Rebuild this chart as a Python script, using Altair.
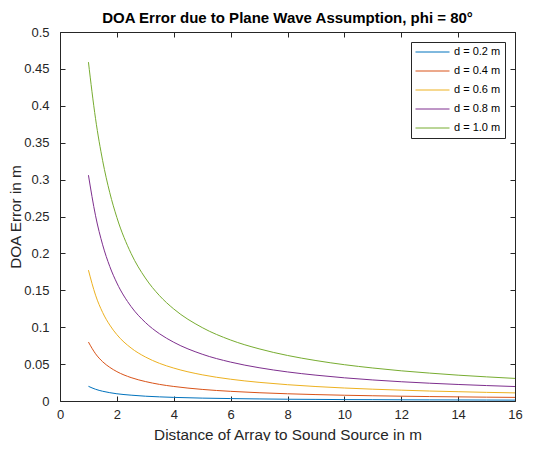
import altair as alt
import pandas as pd

# Distance of array to sound source (m)
distance = [1, 1.25, 1.5, 1.75, 2, 2.5, 3, 3.5, 4, 5, 6, 7, 8, 9, 10, 11, 12, 13, 14, 15, 16]

# DOA error (m)
err_d02 = [0.0199, 0.0159, 0.0132, 0.0113, 0.0098, 0.0079, 0.0065, 0.0056, 0.0049, 0.0039, 0.0033,
           0.0028, 0.0024, 0.0022, 0.0019, 0.0018, 0.0016, 0.0015, 0.0014, 0.0013, 0.0012]
err_d04 = [0.0799, 0.0640, 0.0532, 0.0456, 0.0398, 0.0317, 0.0264, 0.0225, 0.0197, 0.0157, 0.0131,
           0.0112, 0.0098, 0.0087, 0.0078, 0.0071, 0.0065, 0.0060, 0.0056, 0.0052, 0.0049]
err_d06 = [0.1773, 0.1434, 0.1199, 0.1029, 0.0899, 0.0718, 0.0597, 0.0510, 0.0446, 0.0355, 0.0295,
           0.0253, 0.0221, 0.0196, 0.0176, 0.0160, 0.0147, 0.0135, 0.0126, 0.0117, 0.0110]
err_d08 = [0.3060, 0.2510, 0.2116, 0.1823, 0.1599, 0.1280, 0.1065, 0.0911, 0.0796, 0.0634, 0.0527,
           0.0451, 0.0394, 0.0350, 0.0314, 0.0285, 0.0261, 0.0241, 0.0224, 0.0209, 0.0196]
err_d10 = [0.4592, 0.3825, 0.3256, 0.2823, 0.2486, 0.1999, 0.1667, 0.1427, 0.1247, 0.0995, 0.0826,
           0.0707, 0.0617, 0.0548, 0.0492, 0.0447, 0.0409, 0.0378, 0.0350, 0.0327, 0.0306]

series_labels = ["d = 0.2 m", "d = 0.4 m", "d = 0.6 m", "d = 0.8 m", "d = 1.0 m"]
series_colors = ["#0072BD", "#D95319", "#EDB120", "#7E2F8E", "#77AC30"]

x_ticks = [0, 2, 4, 6, 8, 10, 12, 14, 16]
y_ticks = [0, 0.05, 0.1, 0.15, 0.2, 0.25, 0.3, 0.35, 0.4, 0.45, 0.5]

rows = []
for lab, ser in zip(series_labels, [err_d02, err_d04, err_d06, err_d08, err_d10]):
    for xv, yv in zip(distance, ser):
        rows.append({"distance": xv, "error": yv, "series": lab})
df = pd.DataFrame(rows)

W, H = 455, 369
FONT = "Liberation Sans"
AX = "#262626"

x_axis = alt.Axis(
    values=x_ticks, format="d", title="Distance of Array to Sound Source in m",
    ticks=False, domain=False, grid=True, gridColor=AX, gridWidth=1, gridOpacity=1,
    gridDash=[5, H - 10, 5, 2000], labelFlush=False,
    labelFont=FONT, labelFontSize=13, labelColor=AX, labelPadding=7,
    titleFont=FONT, titleFontSize=15.3, titleFontWeight="normal", titleColor=AX,
    titleX=W / 2, titleY=38, titleBaseline="alphabetic", titleAlign="center",
)
y_axis = alt.Axis(
    values=y_ticks, format="~g", title="DOA Error in m",
    ticks=False, domain=False, grid=True, gridColor=AX, gridWidth=1, gridOpacity=1,
    gridDash=[5, W - 10, 5, 2000], labelFlush=False,
    labelFont=FONT, labelFontSize=13, labelColor=AX, labelPadding=11,
    titleFont=FONT, titleFontSize=15.3, titleFontWeight="normal", titleColor=AX,
    titleAngle=270, titleX=-45, titleY=H / 2, titleBaseline="middle", titleAlign="center",
)

chart = alt.Chart(df).mark_line(strokeWidth=1, interpolate="monotone").encode(
    x=alt.X("distance:Q", scale=alt.Scale(domain=[0, 16], nice=False, zero=False), axis=x_axis),
    y=alt.Y("error:Q", scale=alt.Scale(domain=[0, 0.5], nice=False), axis=y_axis),
    color=alt.Color(
        "series:N", title=None,
        scale=alt.Scale(domain=series_labels, range=series_colors),
        legend=alt.Legend(
            orient="none", legendX=351, legendY=10,
            symbolType="stroke", symbolSize=1156, symbolStrokeWidth=1, clipHeight=12,
            labelFont=FONT, labelFontSize=11, labelColor="#000000", labelOffset=4,
            padding=4, rowPadding=7, fillColor="white", strokeColor=AX,
        ),
    ),
).properties(
    width=W, height=H,
    title=alt.Title(
        text="DOA Error due to Plane Wave Assumption, phi = 80°",
        font=FONT, fontSize=15, fontWeight="bold", color="#000000",
        anchor="middle", baseline="alphabetic", offset=-12,
    ),
    autosize=alt.AutoSizeParams(type="none"),
    padding={"left": 52, "top": 24, "right": 18, "bottom": 40},
).configure_view(stroke=AX, strokeWidth=1)

chart.save("out.html", embed_options={"renderer": "svg", "actions": False})
